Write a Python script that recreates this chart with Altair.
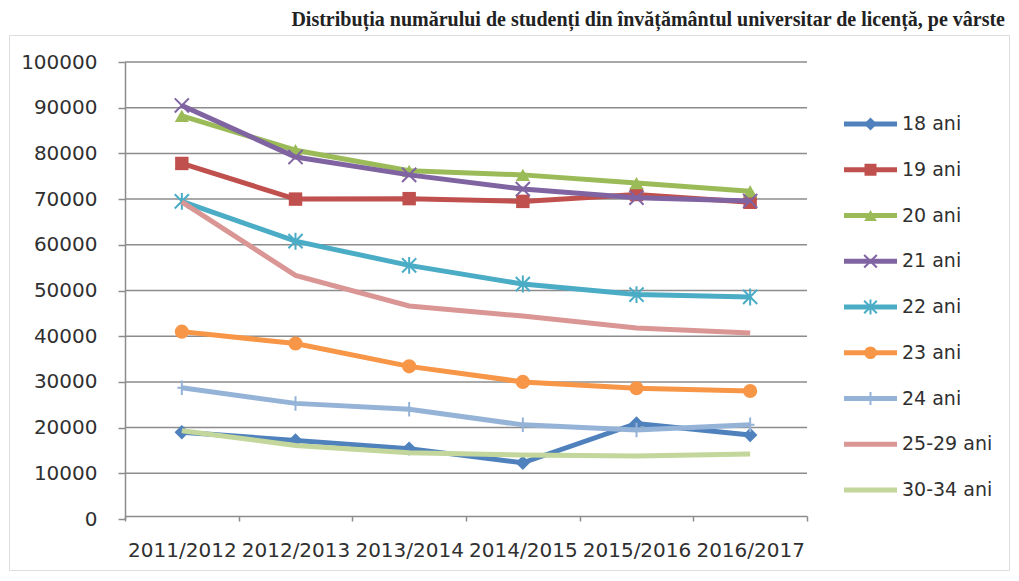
import altair as alt
import pandas as pd

years = ["2011/2012", "2012/2013", "2013/2014", "2014/2015", "2015/2016", "2016/2017"]
series = ["18 ani", "19 ani", "20 ani", "21 ani", "22 ani", "23 ani", "24 ani", "25-29 ani", "30-34 ani"]

s18 = [19000, 17200, 15400, 12300, 20900, 18400]
s19 = [77800, 70000, 70100, 69500, 71000, 69300]
s20 = [88200, 80700, 76200, 75300, 73500, 71700]
s21 = [90500, 79200, 75300, 72200, 70300, 69600]
s22 = [69500, 60800, 55500, 51400, 49100, 48600]
s23 = [41000, 38400, 33400, 30000, 28600, 28000]
s24 = [28700, 25300, 24000, 20600, 19500, 20600]
s2529 = [69400, 53300, 46600, 44400, 41800, 40700]
s3034 = [19300, 16100, 14500, 14000, 13800, 14200]

y_ticks = [0, 10000, 20000, 30000, 40000, 50000, 60000, 70000, 80000, 90000, 100000]

colors = ["#4F81BD", "#C0504D", "#9BBB59", "#8064A2", "#4BACC6", "#F79646", "#95B3D7", "#D99694", "#C3D69B"]

X_PATH = "M-1,-1L1,1M-1,1L1,-1"
AST_PATH = "M-1,-1L1,1M-1,1L1,-1M0,-1.2L0,1.2"
PLUS_PATH = "M-0.6,0L0.6,0M0,-1L0,1"
markers = {
    "18 ani": ("diamond", True, 210),
    "19 ani": ("square", True, 180),
    "20 ani": ("triangle-up", True, 200),
    "21 ani": (X_PATH, False, 200),
    "22 ani": (AST_PATH, False, 200),
    "23 ani": ("circle", True, 200),
    "24 ani": (PLUS_PATH, False, 210),
}

values = [s18, s19, s20, s21, s22, s23, s24, s2529, s3034]
rows = []
for name, vals in zip(series, values):
    for yr, v in zip(years, vals):
        rows.append({"year": yr, "series": name, "value": v})
df = pd.DataFrame(rows)
grid_df = pd.DataFrame({"value": y_ticks[1:]})
leg_df = pd.DataFrame({"series": series})

FONT = "DejaVu Sans"
TXT = "#303030"
GRID = "#8C8C8C"

xscale = alt.Scale(domain=years, range=[116, 798], paddingInner=0, paddingOuter=0)
yscale = alt.Scale(domain=[0, 100000], range=[484, 27], nice=False, zero=True)
color = alt.Color("series:N", scale=alt.Scale(domain=series, range=colors), legend=None)

xaxis = alt.Axis(title=None, tickBand="extent", offset=-54, tickSize=5,
                 labelPadding=19, labelFont=FONT, labelFontSize=20, labelColor=TXT,
                 domainColor=GRID, domainWidth=1.5, tickColor=GRID, tickWidth=1.5,
                 labelAngle=0, grid=False, labelOverlap=False)
yaxis = alt.Axis(title=None, values=y_ticks, format="d", offset=-116, tickSize=7,
                 labelPadding=21, labelFont=FONT, labelFontSize=20, labelColor=TXT,
                 domainColor=GRID, domainWidth=1.5, tickColor=GRID, tickWidth=1.5,
                 grid=False)
X = alt.X("year:N", scale=xscale, sort=years, axis=xaxis)
Y = alt.Y("value:Q", scale=yscale, axis=yaxis)

main_layers = []
for name in series:
    base = alt.Chart(df).transform_filter(alt.datum.series == name)
    main_layers.append(base.mark_line(strokeWidth=5).encode(x=X, y=Y, color=color))
    if name in markers:
        shp, filled, size = markers[name]
        if filled:
            pm = base.mark_point(shape=shp, filled=True, size=size, opacity=1)
        else:
            pm = base.mark_point(shape=shp, filled=False, size=size, strokeWidth=2, opacity=1)
        main_layers.append(pm.encode(x=X, y=Y, color=color))

grid = alt.Chart(grid_df).mark_rule(color=GRID, strokeWidth=1.5).encode(
    y=Y, x=alt.value(116), x2=alt.value(798))
main = alt.layer(grid, *main_layers)

ly = alt.Y("series:N", scale=alt.Scale(type="point", domain=series, range=[89, 455], padding=0), axis=None)
lbase = alt.Chart(leg_df)
leg_layers = [lbase.mark_rule(strokeWidth=5).encode(y=ly, x=alt.value(835), x2=alt.value(888), color=color)]
for name in series:
    if name in markers:
        shp, filled, size = markers[name]
        b = lbase.transform_filter(alt.datum.series == name)
        if filled:
            pm = b.mark_point(shape=shp, filled=True, size=size * 0.8, opacity=1)
        else:
            pm = b.mark_point(shape=shp, filled=False, size=size * 0.8, strokeWidth=2, opacity=1)
        leg_layers.append(pm.encode(y=ly, x=alt.value(861.5), color=color))
leg_layers.append(lbase.mark_text(align="left", baseline="middle", font=FONT, fontSize=19, color=TXT).encode(
    y=ly, x=alt.value(893), text="series:N"))
legend = alt.layer(*leg_layers)

chart = alt.layer(main, legend).resolve_scale(y="independent").properties(
    width=1000, height=535,
    padding={"left": 1, "top": 2, "right": 2, "bottom": 2},
    title=alt.TitleParams(
        "Distribuția numărului de studenți din învățământul universitar de licență, pe vârste",
        font="Liberation Serif", fontSize=20, fontWeight="bold", color="#222222",
        anchor="end", dx=-4, offset=5),
).configure_view(stroke="#B0B0B0", strokeWidth=1.5).configure(background="white")

chart.save("out.html", embed_options={"renderer": "svg", "actions": False})
